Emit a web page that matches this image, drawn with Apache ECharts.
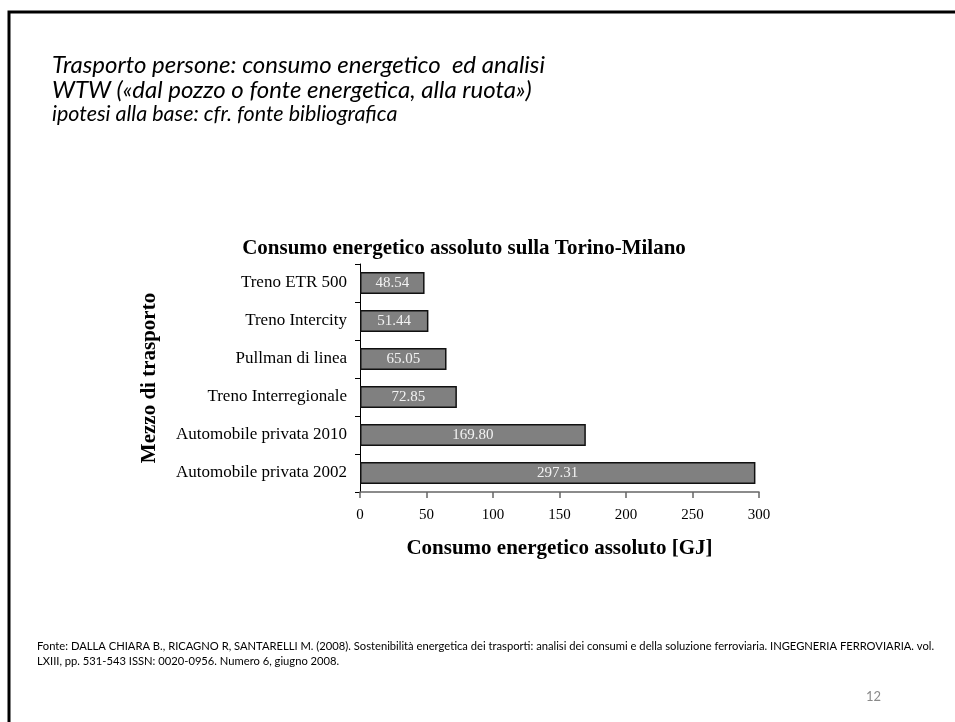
<!DOCTYPE html>
<html><head><meta charset="utf-8">
<script src="https://cdn.jsdelivr.net/npm/echarts@6/dist/echarts.min.js"></script>
<style>html,body{margin:0;padding:0;background:#fff}#c{width:955px;height:722px}</style>
</head><body><div id="c"></div>
<script>
const categories = ['Automobile privata 2002','Automobile privata 2010','Treno Interregionale','Pullman di linea','Treno Intercity','Treno ETR 500'];
const values = [297.31, 169.80, 72.85, 65.05, 51.44, 48.54];
const xTicks = [0, 50, 100, 150, 200, 250, 300];

const serif = 'Liberation Serif';
const chart = echarts.init(document.getElementById('c'), null, {renderer:'canvas'});
chart.setOption({
  animation:false,
  backgroundColor:'#fff',
  title:[
    {text:'Consumo energetico assoluto sulla Torino-Milano', left:459, top:233, textAlign:'center',
     textStyle:{fontFamily:serif, fontWeight:'bold', fontSize:21, color:'#000'}}
  ],
  graphic:[
    {type:'polyline', shape:{points:[[9,722],[9,12],[955,12]]}, style:{stroke:'#000', lineWidth:3, fill:null}},
    {type:'text', x:52, y:65, style:{text:'Trasporto persone: consumo energetico  ed analisi', font:'italic 24px Lato', fill:'#000', verticalAlign:'middle'}},
    {type:'text', x:52, y:90, style:{text:'WTW («dal pozzo o fonte energetica, alla ruota»)', font:'italic 24px Lato', fill:'#000', verticalAlign:'middle'}},
    {type:'text', x:52, y:114, style:{text:'ipotesi alla base: cfr. fonte bibliografica', font:'italic 21.5px Lato', fill:'#000', verticalAlign:'middle'}},
    {type:'text', x:37, y:646, style:{text:'Fonte: DALLA CHIARA B., RICAGNO R, SANTARELLI M. (2008). Sostenibilità energetica dei trasporti: analisi dei consumi e della soluzione ferroviaria. INGEGNERIA FERROVIARIA. vol.', font:'11.2px Lato', fill:'#000', verticalAlign:'middle'}},
    {type:'text', x:37, y:661, style:{text:'LXIII, pp. 531-543 ISSN: 0020-0956. Numero 6, giugno 2008.', font:'11.2px Lato', fill:'#000', verticalAlign:'middle'}},
    {type:'text', x:866, y:697, style:{text:'12', font:'13px Lato', fill:'#8a8a8a', verticalAlign:'middle'}}
  ],
  grid:{left:360, right:196, top:264, bottom:230, containLabel:false},
  xAxis:{type:'value', min:0, max:300, interval:50,
    name:'Consumo energetico assoluto [GJ]', nameLocation:'middle', nameGap:46,
    nameTextStyle:{fontFamily:serif, fontWeight:'bold', fontSize:21, color:'#000'},
    axisLine:{show:true, lineStyle:{color:'#666', width:1.5}},
    axisTick:{show:true, length:6, lineStyle:{color:'#666', width:1.5}},
    axisLabel:{fontFamily:serif, fontSize:15, color:'#000', margin:16,
      formatter:v=>xTicks.includes(v)?String(v):''},
    splitLine:{show:false}},
  yAxis:{type:'category', data:categories,
    name:'Mezzo di trasporto', nameLocation:'middle', nameGap:200, nameRotate:90,
    nameTextStyle:{fontFamily:serif, fontWeight:'bold', fontSize:21, color:'#000'},
    axisLine:{show:true, lineStyle:{color:'#000', width:1}},
    axisTick:{show:true, length:5, lineStyle:{color:'#000'}},
    axisLabel:{fontFamily:serif, fontSize:17, color:'#000', margin:13}},
  series:[{type:'bar', data:values, barWidth:22,
    itemStyle:{color:'#808080', borderColor:'#111', borderWidth:1.5},
    label:{show:true, position:'inside', color:'#f2f2f2', fontFamily:serif, fontSize:15,
      formatter:p=>p.value.toFixed(2)}}]
});
</script></body></html>
